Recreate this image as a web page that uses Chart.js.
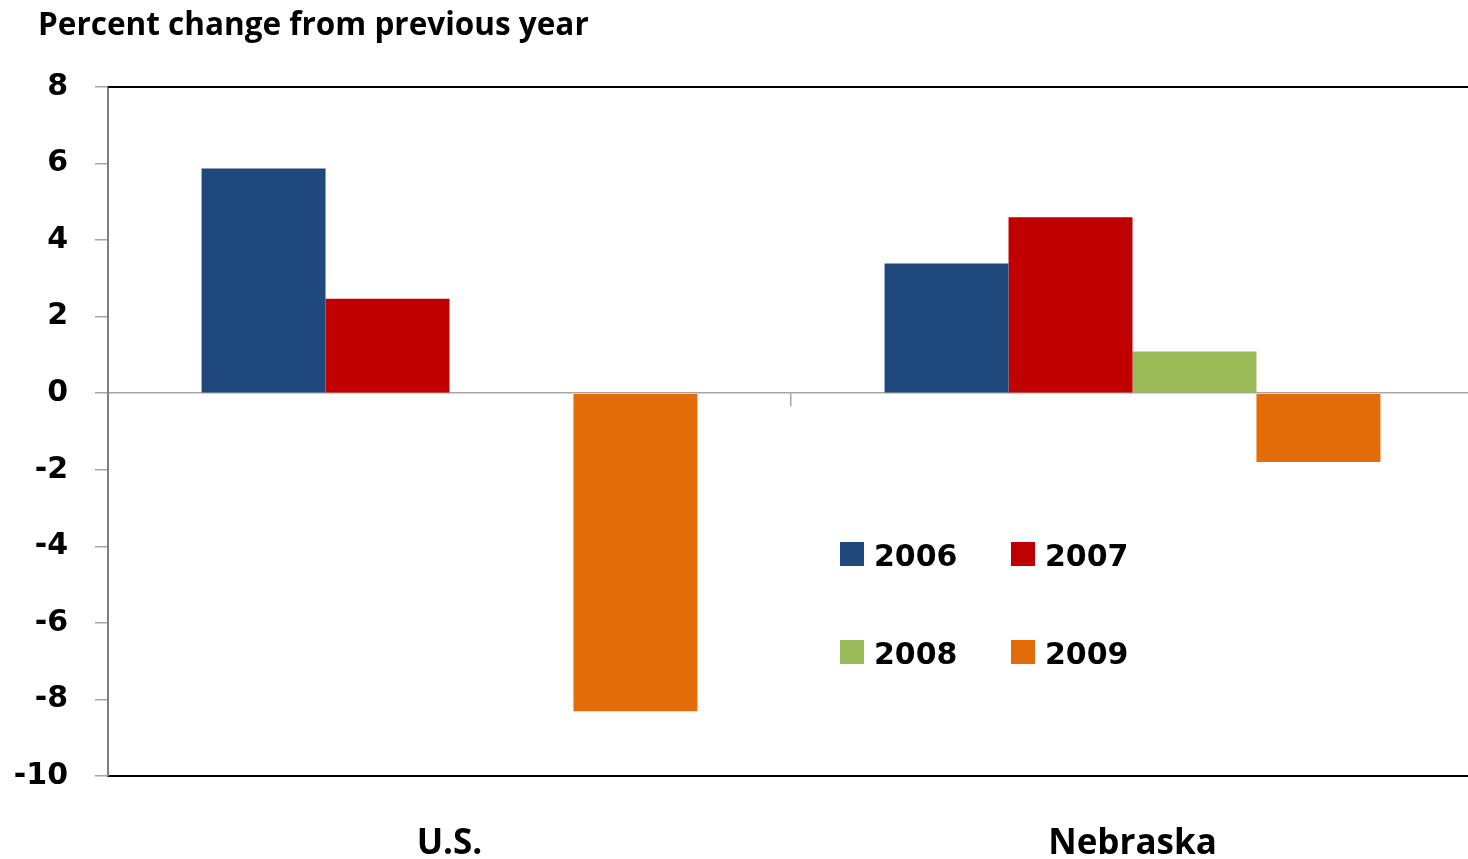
<!DOCTYPE html>
<html>
<head>
<meta charset="utf-8">
<script src="https://cdn.jsdelivr.net/npm/chart.js@4"></script>
<style>
  body { margin: 0; background: #fff; overflow: hidden; }
  #wrap { position: relative; width: 1480px; height: 859px; }
  #title { position: absolute; left: 38px; top: 3px; font-family: "Open Sans", sans-serif; font-weight: bold; font-size: 31.5px; line-height: 40px; color: #000; white-space: nowrap; }
  #legend { position: absolute; left: 0; top: 0; font-family: "DejaVu Sans", sans-serif; font-weight: bold; font-size: 30px; color: #000; }
  .item { position: absolute; line-height: 30px; white-space: nowrap; }
  .box { display: inline-block; width: 24px; height: 24px; vertical-align: baseline; margin-right: 10px; }
</style>
</head>
<body>
<div id="wrap">
  <canvas id="Chart1"></canvas>
  <div id="title">Percent change from previous year</div>
  <div id="legend"></div>
</div>
<script>
// data
const regions = ['U.S.', 'Nebraska'];
const years = ['2006', '2007', '2008', '2009'];
const val2006 = [5.87, 3.39];
const val2007 = [2.47, 4.60];
const val2008 = [0, 1.09];
const val2009 = [-8.31, -1.80];
const yTicks = { min: -10, max: 8, step: 2 };

const colors = ['#1F497D', '#C00000', '#9BBB59', '#E36C09'];
const series = [val2006, val2007, val2008, val2009];

// top frame line (Excel plot border)
const topLine = {
  id: 'topLine',
  afterDraw(chart) {
    const { ctx, chartArea } = chart;
    ctx.save();
    ctx.strokeStyle = '#000';
    ctx.lineWidth = 2;
    ctx.beginPath();
    ctx.moveTo(chartArea.left, chartArea.top);
    ctx.lineTo(chartArea.right, chartArea.top);
    ctx.stroke();
    ctx.restore();
  }
};

const ctx = document.getElementById('Chart1');
const chartdata = {
  labels: regions,
  datasets: years.map((y, i) => ({
    label: y,
    data: series[i],
    backgroundColor: colors[i],
    borderWidth: 0,
    categoryPercentage: 0.726,
    barPercentage: 1
  }))
};

const config = {
  type: 'bar',
  data: chartdata,
  options: {
    responsive: true,
    maintainAspectRatio: false,
    animation: false,
    layout: { padding: { left: 0, right: 6, top: 87, bottom: 0 } },
    plugins: {
      legend: { display: false },
      tooltip: { enabled: false },
      title: { display: false }
    },
    scales: {
      x: {
        position: 'bottom',
        offset: true,
        grid: { display: false, drawTicks: false },
        border: { display: true, color: '#000', width: 2 },
        ticks: {
          color: '#000',
          padding: 47,
          font: { family: 'Open Sans', size: 35, weight: 'bold' }
        },
        afterFit: s => { s.height = 83; }
      },
      x0: {
        type: 'category',
        position: { y: 0 },
        offset: true,
        grid: { offset: true, drawOnChartArea: false, tickLength: 13, color: '#a6a6a6', lineWidth: 1.5 },
        border: { display: true, color: '#a6a6a6', width: 1.5 },
        ticks: { display: false },
        afterFit: s => { s.height = 0; }
      },
      y: {
        min: yTicks.min,
        max: yTicks.max,
        ticks: {
          stepSize: yTicks.step,
          color: '#000',
          padding: 27,
          font: { family: 'DejaVu Sans', size: 30, weight: 'bold' }
        },
        grid: { drawOnChartArea: false, tickLength: 13, color: '#a6a6a6', lineWidth: 1.5 },
        border: { display: true, color: '#7f7f7f', width: 2 },
        afterFit: s => { s.width = 108; }
      }
    }
  },
  plugins: [topLine]
};

const myChart = new Chart(ctx, config);

// legend, 2 x 2 inside the plot
const legendPos = [[840, 541], [1011, 541], [840, 639], [1011, 639]];
const legend = document.getElementById('legend');
years.forEach((y, i) => {
  const it = document.createElement('div');
  it.className = 'item';
  it.style.left = legendPos[i][0] + 'px';
  it.style.top = legendPos[i][1] + 'px';
  it.innerHTML = '<span class="box" style="background:' + colors[i] + '"></span>' + y;
  legend.appendChild(it);
});
</script>
</body>
</html>
